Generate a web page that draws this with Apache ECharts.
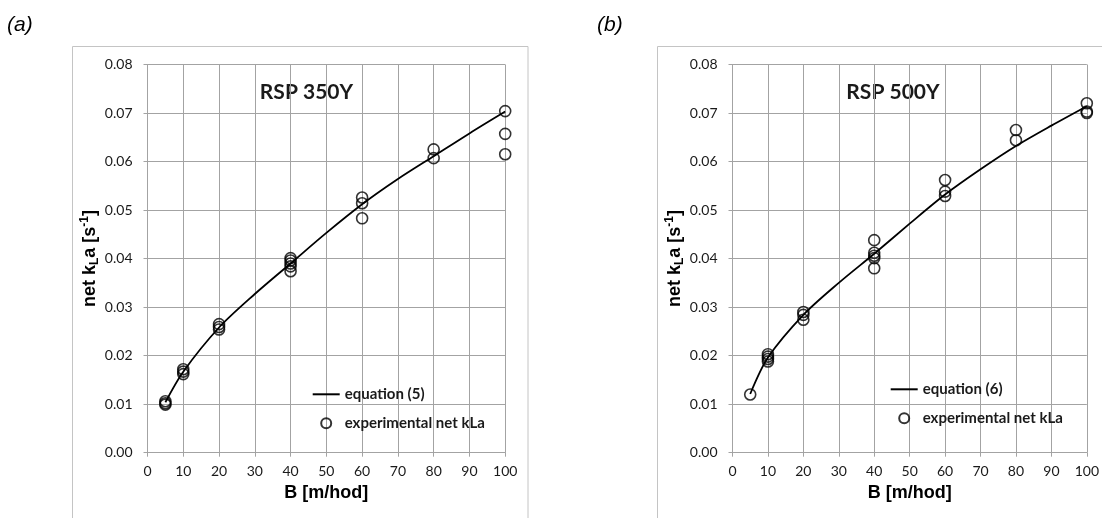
<!DOCTYPE html>
<html>
<head>
<meta charset="utf-8">
<script src="https://cdn.jsdelivr.net/npm/echarts@6/dist/echarts.min.js"></script>
<style>
html,body{margin:0;padding:0;background:#fff;}
#c{width:1102px;height:518px;}
</style>
</head>
<body>
<div id="c"></div>
<script>
// ---- data ----
const panelLabels = ['(a)', '(b)'];
const panelTitles = ['RSP 350Y', 'RSP 500Y'];
const eqNames = ['equation (5)', 'equation (6)'];
const expName = 'experimental net kLa';

// panel (a) – RSP 350Y
const expA_B = [5, 5, 5, 10, 10, 10, 20, 20, 20, 40, 40, 40, 40, 40, 60, 60, 60, 80, 80, 100, 100, 100];
const expA_k = [0.0106, 0.0102, 0.0099, 0.0172, 0.0167, 0.0162, 0.0265, 0.0259, 0.0254,
                0.0401, 0.0396, 0.0390, 0.0384, 0.0374, 0.0526, 0.0514, 0.0483,
                0.0625, 0.0607, 0.0704, 0.0657, 0.0615];
const eqA_B = [5, 10, 20, 30, 40, 50, 60, 70, 80, 90, 100];
const eqA_k = [0.0104, 0.0167, 0.0258, 0.0327, 0.0390, 0.0453, 0.0512, 0.0564, 0.0611, 0.0658, 0.0703];

// panel (b) – RSP 500Y
const expB_B = [5, 10, 10, 10, 10, 20, 20, 20, 40, 40, 40, 40, 40, 60, 60, 60, 80, 80, 100, 100, 100];
const expB_k = [0.0120, 0.0203, 0.0198, 0.0193, 0.0188, 0.0290, 0.0284, 0.0274,
                0.0438, 0.0412, 0.0406, 0.0401, 0.0380, 0.0562, 0.0538, 0.0529,
                0.0665, 0.0644, 0.0720, 0.0703, 0.0700];
const eqB_B = [5, 10, 20, 30, 40, 50, 60, 70, 80, 90, 100];
const eqB_k = [0.0121, 0.0196, 0.0284, 0.0350, 0.0410, 0.0472, 0.0532, 0.0584, 0.0632, 0.0674, 0.0714];

const xAxisName = 'B [m/hod]';
const yAxisName = 'net k{sub|L}a [s{sup|-1}]';

// ---- chart ----
const zip = (a, b) => a.map((v, i) => [v, b[i]]);
const tickFont = 'Lato';
const boldSans = 'Liberation Sans';
const gridCol = '#a3a3a3';

function xAxis(i) {
  return {
    gridIndex: i, type: 'value', min: 0, max: 100, interval: 10,
    name: xAxisName, nameLocation: 'middle', nameGap: 29,
    nameTextStyle: {fontFamily: boldSans, fontWeight: 'bold', fontSize: 18, color: '#000'},
    axisLine: {lineStyle: {color: gridCol, width: 1}},
    axisTick: {show: true, length: 4, lineStyle: {color: gridCol}},
    axisLabel: {fontFamily: tickFont, fontSize: 14, color: '#1a1a1a', margin: 12},
    splitLine: {show: true, lineStyle: {color: gridCol, width: 1}}
  };
}
function yAxis(i) {
  return {
    gridIndex: i, type: 'value', min: 0, max: 0.08, interval: 0.01,
    name: yAxisName, nameLocation: 'middle', nameGap: 46,
    nameTextStyle: {
      fontFamily: boldSans, fontWeight: 'bold', fontSize: 18, color: '#000', lineHeight: 22,
      rich: {
        sub: {fontFamily: boldSans, fontWeight: 'bold', fontSize: 12, color: '#000', lineHeight: 12, verticalAlign: 'bottom'},
        sup: {fontFamily: boldSans, fontWeight: 'bold', fontSize: 12, color: '#000', lineHeight: 12, verticalAlign: 'top'}
      }
    },
    axisLine: {show: true, lineStyle: {color: gridCol, width: 1}},
    axisTick: {show: true, length: 4, lineStyle: {color: gridCol}},
    axisLabel: {fontFamily: tickFont, fontSize: 14, color: '#1a1a1a', margin: 15,
                formatter: v => v.toFixed(2)},
    splitLine: {show: true, lineStyle: {color: gridCol, width: 1}}
  };
}
function legend(left, top, eqName) {
  return {
    left: left, top: top, orient: 'vertical', padding: 0, itemWidth: 27, itemHeight: 10, itemGap: 11,
    data: [{name: eqName, icon: 'path://M0 0H27V2H0Z'}, {name: expName}],
    textStyle: {fontFamily: tickFont, fontWeight: 'bold', fontSize: 15, color: '#1a1a1a', lineHeight: 18},
    selectedMode: false
  };
}
const markerStyle = {color: 'rgba(0,0,0,0)', borderColor: '#000', borderWidth: 1.6};

const option = {
  backgroundColor: '#fff',
  animation: false,
  grid: [
    {left: 147.5, top: 64.5, width: 357.7, height: 388.2},
    {left: 732.5, top: 64.5, width: 358, height: 388.2}
  ],
  xAxis: [xAxis(0), xAxis(1)],
  yAxis: [yAxis(0), yAxis(1)],
  legend: [legend(312.7, 385.3, eqNames[0]), legend(890.7, 380.3, eqNames[1])],
  series: [
    {name: eqNames[0], type: 'line', xAxisIndex: 0, yAxisIndex: 0, data: zip(eqA_B, eqA_k),
     smooth: 0.3, symbol: 'none', lineStyle: {color: '#000', width: 1.8}, itemStyle: {color: '#000'}, z: 2},
    {name: expName, type: 'scatter', xAxisIndex: 0, yAxisIndex: 0, data: zip(expA_B, expA_k),
     symbol: 'circle', symbolSize: 11, itemStyle: markerStyle, z: 3},
    {name: eqNames[1], type: 'line', xAxisIndex: 1, yAxisIndex: 1, data: zip(eqB_B, eqB_k),
     smooth: 0.3, symbol: 'none', lineStyle: {color: '#000', width: 1.8}, itemStyle: {color: '#000'}, z: 2},
    {name: expName, type: 'scatter', xAxisIndex: 1, yAxisIndex: 1, data: zip(expB_B, expB_k),
     symbol: 'circle', symbolSize: 11, itemStyle: markerStyle, z: 3}
  ],
  graphic: [
    {type: 'rect', shape: {x: 72.5, y: 46.5, width: 455.5, height: 520}, style: {fill: 'none', stroke: '#c4c4c4', lineWidth: 1}, z: -10},
    {type: 'rect', shape: {x: 657.5, y: 46.5, width: 600, height: 520}, style: {fill: 'none', stroke: '#c4c4c4', lineWidth: 1}, z: -10},
    {type: 'text', x: 7, y: 25, style: {text: panelLabels[0], font: 'italic 21px "Liberation Sans"', fill: '#000', verticalAlign: 'middle'}},
    {type: 'text', x: 597, y: 25, style: {text: panelLabels[1], font: 'italic 21px "Liberation Sans"', fill: '#000', verticalAlign: 'middle'}},
    {type: 'text', x: 306.5, y: 92, style: {text: panelTitles[0], font: 'bold 21px Lato', fill: '#1a1a1a', align: 'center', verticalAlign: 'middle'}},
    {type: 'text', x: 893, y: 92.5, style: {text: panelTitles[1], font: 'bold 21px Lato', fill: '#1a1a1a', align: 'center', verticalAlign: 'middle'}}
  ]
};
const chart = echarts.init(document.getElementById('c'), null, {renderer: 'canvas'});
chart.setOption(option);
</script>
</body>
</html>
